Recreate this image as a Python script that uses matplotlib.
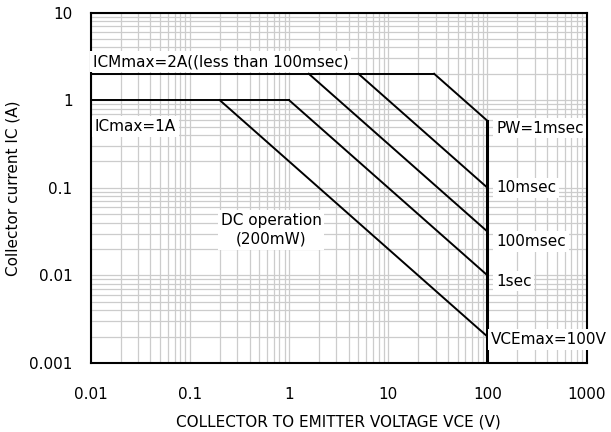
import numpy as np
from matplotlib import pyplot as plt
from matplotlib.ticker import LogLocator, NullFormatter, FixedLocator

plt.rcParams['font.family'] = ['DejaVu Sans', 'Noto Sans CJK JP']

# SOA boundary lines (VCE [V], IC [A])
icm_v = [0.01, 29]
icm_i = [2, 2]
ic_v = [0.01, 1]
ic_i = [1, 1]
dc_v = [0.2, 100]
dc_i = [1, 0.002]
sec1_v = [1, 100]
sec1_i = [1, 0.01]
ms100_v = [1.58, 100]
ms100_i = [2, 0.0316]
ms10_v = [5, 100]
ms10_i = [2, 0.1]
ms1_v = [29, 100]
ms1_i = [2, 0.58]
vce_v = [100, 100]
vce_i = [0.58, 0.001]

x_ticks = [0.01, 0.1, 1, 10, 100, 1000]
x_labels = ['0.01', '0.1', '1', '10', '100', '1000']
y_ticks = [0.001, 0.01, 0.1, 1, 10]
y_labels = ['0.001', '0.01', '0.1', '1', '10']

fig = plt.figure(figsize=(6.11, 4.32), dpi=100)
ax = fig.add_axes([0.1484, 0.1597, 0.8118, 0.8113])
ax.set_xscale('log')
ax.set_yscale('log')
ax.set_xlim(0.01, 1000)
ax.set_ylim(0.001, 10)

ax.xaxis.set_major_locator(FixedLocator(x_ticks))
ax.yaxis.set_major_locator(FixedLocator(y_ticks))
ax.xaxis.set_minor_locator(LogLocator(base=10, subs=np.arange(2, 10)))
ax.yaxis.set_minor_locator(LogLocator(base=10, subs=np.arange(2, 10)))
ax.xaxis.set_minor_formatter(NullFormatter())
ax.yaxis.set_minor_formatter(NullFormatter())
ax.set_xticklabels(x_labels, fontsize=11)
ax.set_yticklabels(y_labels, fontsize=11)
ax.tick_params(which='both', length=0)
ax.tick_params(axis='x', pad=17)
ax.tick_params(axis='y', pad=13)
ax.grid(True, which='both', color='#cccccc', lw=0.9)

for s in ax.spines.values():
    s.set_color('black')
    s.set_linewidth(1.5)

k = dict(color='black', lw=1.4)
for xs, ys in [(icm_v, icm_i), (ic_v, ic_i), (dc_v, dc_i), (sec1_v, sec1_i),
               (ms100_v, ms100_i), (ms10_v, ms10_i), (ms1_v, ms1_i)]:
    ax.plot(xs, ys, **k)
ax.plot(vce_v, vce_i, color='black', lw=2.2)

box = dict(facecolor='white', edgecolor='none', pad=2)
fs = 11
ax.text(0.0105, 2.75, 'ICMmax=2A((less than 100msec)', fontsize=fs, va='center', ha='left', bbox=box)
ax.text(0.011, 0.5, 'ICmax=1A', fontsize=fs, va='center', ha='left', bbox=box)
ax.text(0.66, 0.033, 'DC operation\n(200mW)', fontsize=fs, va='center', ha='center',
        linespacing=1.3, bbox=box)
ax.text(122, 0.48, 'PW=1msec', fontsize=fs, va='center', ha='left', bbox=box)
ax.text(122, 0.1, '10msec', fontsize=fs, va='center', ha='left', bbox=box)
ax.text(122, 0.0245, '100msec', fontsize=fs, va='center', ha='left', bbox=box)
ax.text(122, 0.0086, '1sec', fontsize=fs, va='center', ha='left', bbox=box)
ax.text(107, 0.00185, 'VCEmax=100V', fontsize=fs, va='center', ha='left', bbox=box)

ax.set_xlabel('COLLECTOR TO EMITTER VOLTAGE VCE (V)', fontsize=11, labelpad=9)
ax.set_ylabel('Collector current IC (A)', fontsize=11, labelpad=6)

fig.savefig('out.png', dpi=100)
